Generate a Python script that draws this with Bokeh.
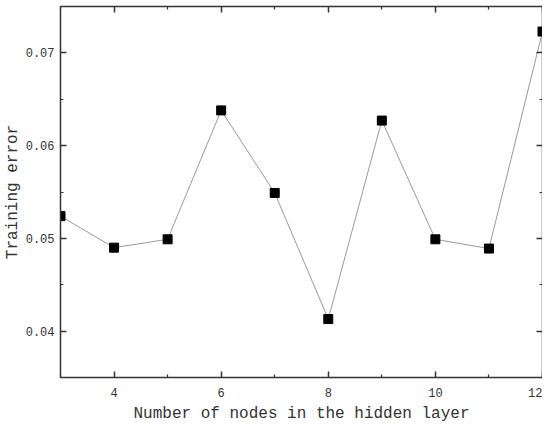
from bokeh.plotting import figure
from bokeh.models import FixedTicker, LinearAxis, Range1d
from bokeh.embed import file_html
from bokeh.resources import INLINE

nodes = [3, 4, 5, 6, 7, 8, 9, 10, 11, 12]
train_err = [0.0524, 0.0490, 0.0499, 0.0638, 0.0549, 0.0413, 0.0627, 0.0499, 0.0489, 0.0723]

x_ticks = [4, 6, 8, 10, 12]
x_minor = [3, 5, 7, 9, 11]
y_ticks = [0.04, 0.05, 0.06, 0.07]
y_minor = [0.035, 0.045, 0.055, 0.065, 0.075]
y_labels = {0.04: "0.04", 0.05: "0.05", 0.06: "0.06", 0.07: "0.07"}

FONT = "Liberation Mono"
TXT = "#333333"
AX = "#333333"

p = figure(width=542, height=425, output_backend="svg", toolbar_location=None,
           x_range=Range1d(3, 12), y_range=Range1d(0.035, 0.075),
           min_border_left=0, min_border_right=0, min_border_top=6, min_border_bottom=0,
           x_axis_label="Number of nodes in the hidden layer", y_axis_label="Training error")
p.grid.visible = False
p.outline_line_color = None
p.background_fill_color = "white"
p.border_fill_color = "white"

p.line(nodes, train_err, line_color="#9a9a9a", line_width=1)
p.scatter(nodes, train_err, marker="square", size=9, fill_color="black", line_color="black")

xt = FixedTicker(ticks=x_ticks, minor_ticks=x_minor)
yt = FixedTicker(ticks=y_ticks, minor_ticks=y_minor)

def style(ax, labels=True):
    ax.axis_line_color = AX
    ax.axis_line_width = 1.5
    ax.major_tick_line_color = AX
    ax.minor_tick_line_color = AX
    ax.major_tick_line_width = 1.5
    ax.minor_tick_line_width = 1.2
    ax.major_tick_in = 6
    ax.major_tick_out = 0
    ax.minor_tick_in = 3
    ax.minor_tick_out = 0
    ax.major_label_text_font = FONT
    ax.major_label_text_color = TXT
    ax.major_label_text_font_size = "12px"
    ax.axis_label_text_font = FONT
    ax.axis_label_text_font_style = "normal"
    ax.axis_label_text_color = TXT
    ax.axis_label_text_font_size = "16px"
    if not labels:
        ax.major_label_text_font_size = "0px"
        ax.major_label_text_color = None
        ax.major_label_standoff = 0
        ax.axis_label_standoff = 0

p.xaxis.ticker = xt
p.yaxis.ticker = yt
p.yaxis.major_label_overrides = y_labels
style(p.xaxis[0])
style(p.yaxis[0])
p.xaxis.major_label_standoff = 10
p.xaxis.axis_label_standoff = 5
p.yaxis.major_label_standoff = 6
p.yaxis.axis_label_standoff = 1

top = LinearAxis(ticker=xt, major_label_overrides={t: "" for t in x_ticks})
style(top, labels=False)
p.add_layout(top, "above")
right = LinearAxis(ticker=yt, major_label_overrides={t: "" for t in y_ticks})
style(right, labels=False)
p.add_layout(right, "right")

open("out.html", "w").write(file_html(p, INLINE))
